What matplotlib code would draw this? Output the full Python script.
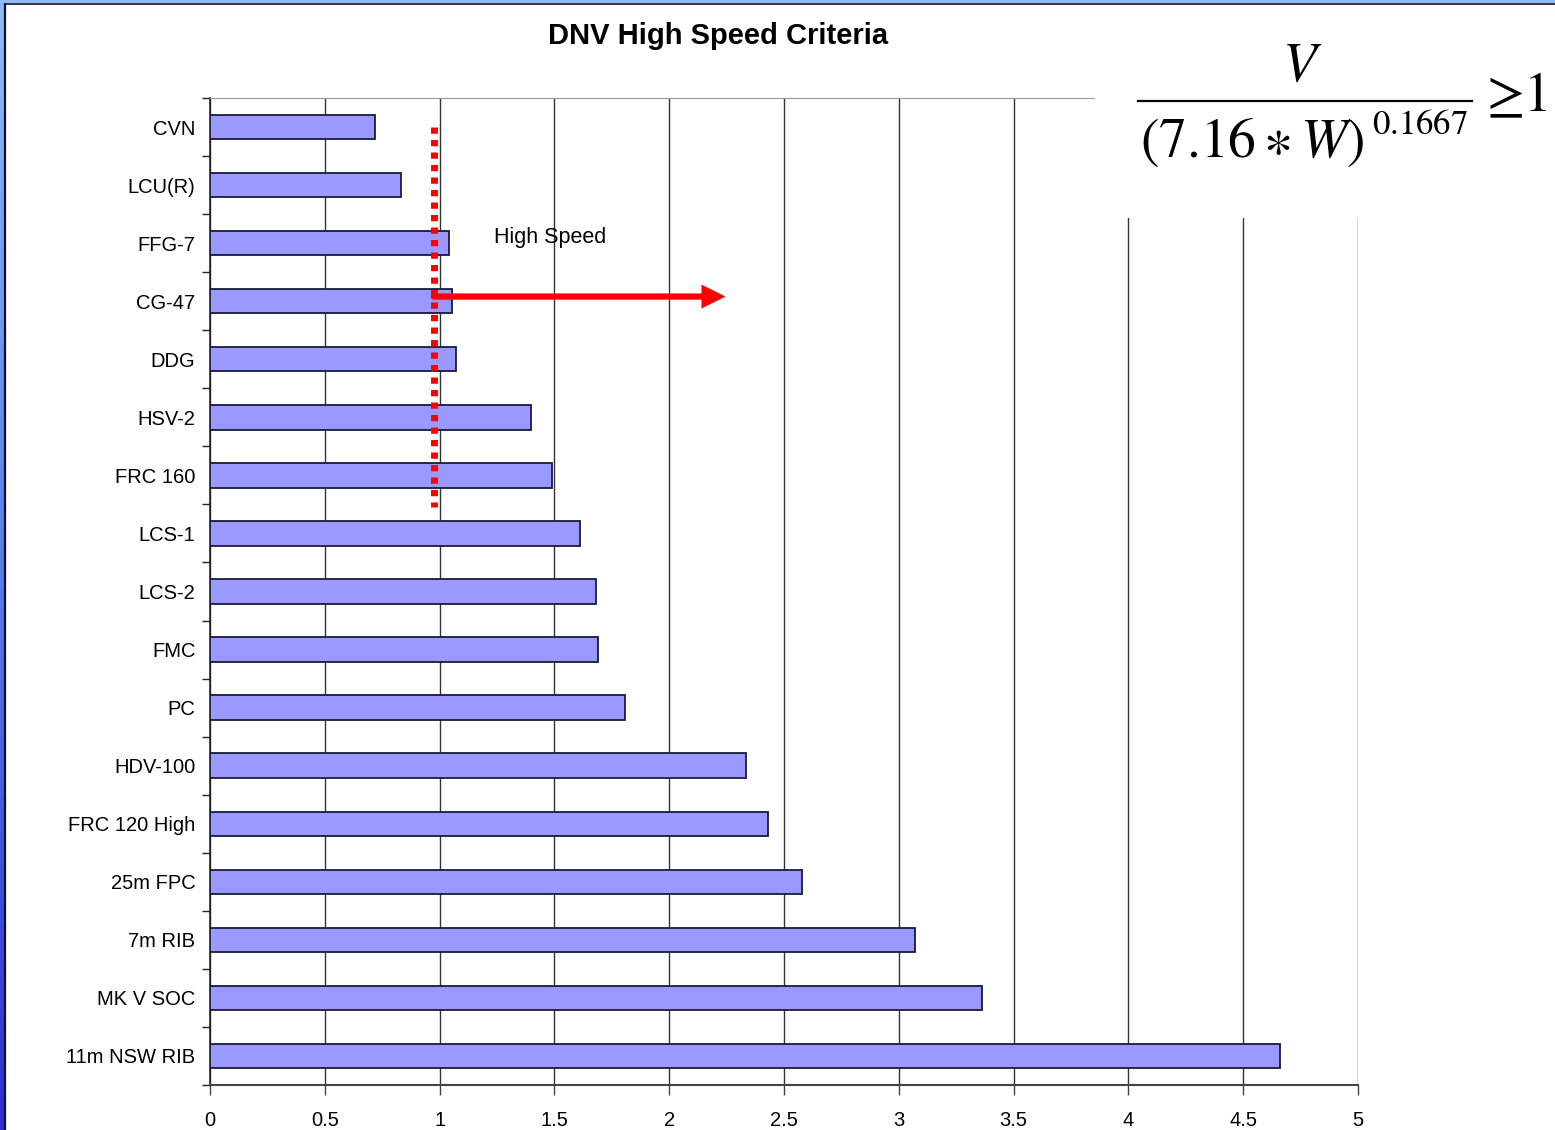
import numpy as np
import matplotlib
matplotlib.use('Agg')
from matplotlib import pyplot as plt
from matplotlib.lines import Line2D
from matplotlib.patches import Rectangle
from matplotlib.colors import LinearSegmentedColormap

plt.rcParams['font.family'] = ['Liberation Sans', 'DejaVu Sans']
plt.rcParams['mathtext.fontset'] = 'stix'

# Vessels and their speed ratio V / (7.16*W)^0.1667
vessels = ['CVN', 'LCU(R)', 'FFG-7', 'CG-47', 'DDG', 'HSV-2', 'FRC 160',
           'LCS-1', 'LCS-2', 'FMC', 'PC', 'HDV-100', 'FRC 120 High',
           '25m FPC', '7m RIB', 'MK V SOC', '11m NSW RIB']
ratios = [0.719, 0.832, 1.041, 1.054, 1.071, 1.398, 1.490,
          1.611, 1.681, 1.690, 1.807, 2.334, 2.430,
          2.578, 3.071, 3.362, 4.660]
x_ticks = [0, 0.5, 1, 1.5, 2, 2.5, 3, 3.5, 4, 4.5, 5]
x_tick_labels = ['0', '0.5', '1', '1.5', '2', '2.5', '3', '3.5', '4', '4.5', '5']
threshold = 0.975
arrow_end = 2.245

W, H = 1555, 1130
fig = plt.figure(figsize=(W / 100, H / 100), dpi=100)
fig.patch.set_facecolor('white')

ax = fig.add_axes([210 / W, 1 - 1085 / H, (1358 - 210) / W, (1085 - 98) / H])
pos = np.arange(len(vessels))
ax.barh(pos, ratios, height=0.42, color='#9999ff', edgecolor='#1a1a3a',
        linewidth=1.3, zorder=3)
ax.set_ylim(len(vessels) - 0.5, -0.5)
ax.set_xlim(0, 5)

ax.set_xticks(x_ticks)
ax.set_xticklabels(x_tick_labels, fontsize=14.5)
ax.set_yticks(pos)
ax.set_yticklabels(vessels, fontsize=14.5)
ax.tick_params(axis='y', length=0, pad=10.5)
ax.set_yticks(np.arange(-0.5, len(vessels) + 0.5, 1), minor=True)
ax.tick_params(axis='y', which='minor', length=6, width=1, color='#222222',
               direction='out')
ax.tick_params(axis='x', length=7, width=1, color='#444444', direction='out',
               pad=12)

ax.spines['right'].set_visible(False)
ax.spines['top'].set_color('#999999')
ax.spines['left'].set_color('#222222')
ax.spines['bottom'].set_color('#444444')
ax.spines['left'].set_linewidth(1.2)
ax.spines['bottom'].set_linewidth(1.5)
ax.grid(axis='x', color='#333333', linewidth=1.0, zorder=1)

# threshold line and arrow
ax.plot([threshold, threshold], [0, 6.55], color='#ff0000', linewidth=5,
        linestyle=(0, (0.9, 0.9)), zorder=5)
ax.annotate('', xy=(arrow_end, 3 - 0.08), xytext=(threshold, 3 - 0.08),
            arrowprops=dict(arrowstyle='-|>,head_length=1.0,head_width=0.5',
                            color='#ff0000', lw=4.5, shrinkA=0, shrinkB=0,
                            joinstyle='miter'),
            zorder=6)
ax.text(1.48, 1.9, 'High Speed', fontsize=15.5, ha='center', va='center',
        zorder=6)

fig.text(718 / W, 1 - 36 / H, 'DNV High Speed Criteria', fontsize=21,
         fontweight='bold', ha='center', va='center')

# white box behind the formula
fig.patches.append(Rectangle((1095 / W, 1 - 218 / H), 460 / W, 218 / H,
                             transform=fig.transFigure, facecolor='white',
                             edgecolor='none', zorder=10))
fig.text(1302 / W, 1 - 67 / H, r'$V$', fontsize=40, ha='center', va='center',
         zorder=11)
fig.add_artist(Line2D([1138 / W, 1472 / W], [1 - 101 / H, 1 - 101 / H],
                      color='black', linewidth=1.6, zorder=11))
fig.text(1140 / W, 1 - 142 / H, r'$(7.16\ast W)$', fontsize=40, ha='left',
         va='center', zorder=11)
fig.text(1372 / W, 1 - 124 / H, r'$0.1667$', fontsize=25, ha='left',
         va='center', zorder=11)
fig.text(1486 / W, 1 - 98 / H, '≥', fontsize=40, ha='left',
         va='center', family='STIXGeneral', zorder=11)
fig.text(1552 / W, 1 - 98 / H, '1', fontsize=40, ha='right',
         va='center', family='STIXGeneral', zorder=11)

# blue frame on the left and top edges
grad = LinearSegmentedColormap.from_list('edge', ['#90bbf2', '#5a7ee8', '#2f2fcc'])
edge_ax = fig.add_axes([0, 0, 5 / W, 1])
edge_ax.imshow(np.linspace(0, 1, 256).reshape(-1, 1), aspect='auto', cmap=grad)
edge_ax.axis('off')
fig.patches.append(Rectangle((0, 1 - 3 / H), 1, 3 / H, transform=fig.transFigure,
                             facecolor='#90bbf2', edgecolor='none', zorder=12))
fig.add_artist(Line2D([5 / W, 5 / W], [0, 1 - 3 / H], color='#10102a',
                      linewidth=1.6, zorder=12))
fig.add_artist(Line2D([5 / W, 1], [1 - 3.8 / H, 1 - 3.8 / H], color='#10102a',
                      linewidth=1.2, zorder=12))

fig.savefig('out.png', dpi=100)
